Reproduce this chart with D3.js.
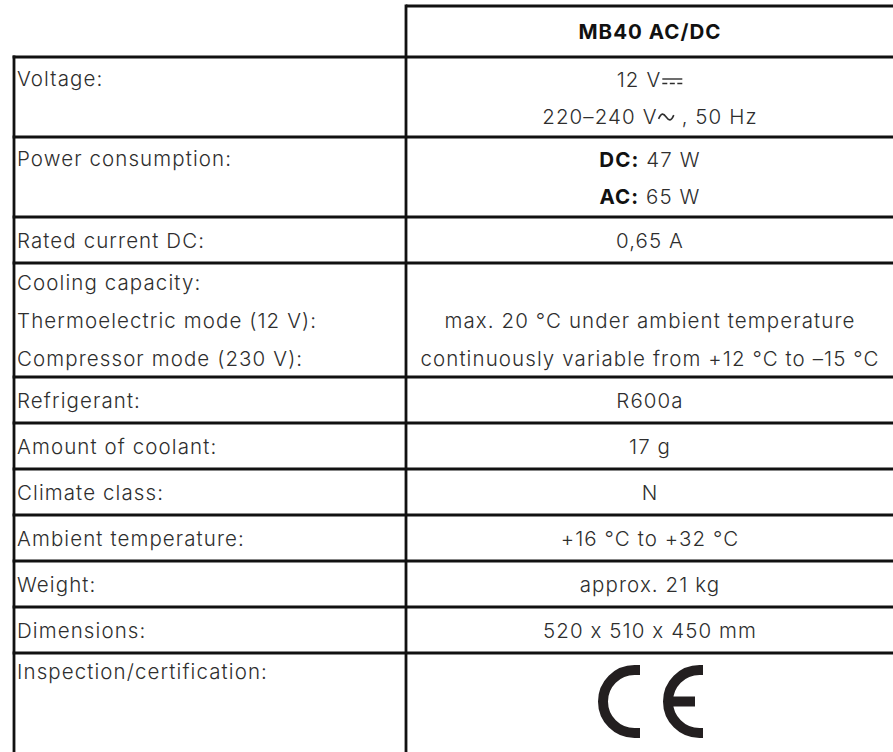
<!DOCTYPE html>
<html><head><meta charset="utf-8">
<script src="https://cdn.jsdelivr.net/npm/d3@7"></script>
<style>body{margin:0;background:#fff;overflow:hidden}</style></head>
<body><svg id="c" width="893" height="752"></svg>
<script>
const headerTitle = "MB40 AC/DC";
const rowLabels = [
  ["Voltage:"],
  ["Power consumption:"],
  ["Rated current DC:"],
  ["Cooling capacity:", "Thermoelectric mode (12 V):", "Compressor mode (230 V):"],
  ["Refrigerant:"],
  ["Amount of coolant:"],
  ["Climate class:"],
  ["Ambient temperature:"],
  ["Weight:"],
  ["Dimensions:"],
  ["Inspection/certification:"]
];
const rowValues = [
  ["12 V\u2393", "220\u2013240 V\u223C , 50 Hz"],
  ["DC: 47 W", "AC: 65 W"],
  ["0,65 A"],
  ["", "max. 20 \u00B0C under ambient temperature", "continuously variable from +12 \u00B0C to \u201315 \u00B0C"],
  ["R600a"],
  ["17 g"],
  ["N"],
  ["+16 \u00B0C to +32 \u00B0C"],
  ["approx. 21 kg"],
  ["520 x 510 x 450 mm"],
  ["CE"]
];
const boldPrefixes = ["DC:", "AC:"];
const symbolChars = ["\u2393", "\u223C"];

const W = 893, H = 752;
const svg = d3.select("#c");
const xLeft = 14, xDiv = 406, xRight = 900;
const yTop = 6, yHead = 57;
const rowBase = 46, rowExtra = 34;
const font = "Inter, 'Open Sans', 'DejaVu Sans', sans-serif";
const textColor = "#2e2e2e";
const fs = 20.5;
const cxVal = (xDiv + W + 1) / 2;

function measure(t, weight) {
  const p = svg.append("text").attr("font-family", font).attr("font-size", fs).attr("font-weight", weight).text(t);
  const w = p.node().getComputedTextLength();
  p.remove();
  return w;
}
const longStr = rowValues[3][2];
const ls = Math.max(0, (458 - measure(longStr, 300)) / (longStr.length - 1));
const lsB = Math.max(0, (142 - measure(headerTitle, 700)) / (headerTitle.length - 1));

// row boxes
const rows = [];
let y = yHead;
rowLabels.forEach((lab, i) => {
  const n = Math.max(lab.length, rowValues[i].length);
  const isLast = i === rowLabels.length - 1;
  const h = isLast ? 140 : rowBase + (n - 1) * rowExtra;
  rows.push({i, y0: y, y1: y + h, n, lab, val: rowValues[i], isLast});
  y += h;
});

const gT = svg.append("g").attr("font-family", font).attr("font-size", fs).attr("fill", textColor)
  .attr("letter-spacing", ls);
gT.append("text").attr("x", cxVal).attr("y", (yTop + yHead) / 2)
  .attr("text-anchor", "middle").attr("dominant-baseline", "central")
  .attr("font-weight", 700).attr("fill", "#111").attr("letter-spacing", lsB).text(headerTitle);

const gS = svg.append("g").attr("fill", "none").attr("stroke", textColor).attr("stroke-width", 1.4);

rows.forEach(r => {
  const step = r.n === 3 ? 38 : 37;
  const lineY = k => r.isLast ? r.y0 + 18 : (r.y0 + r.y1) / 2 + (k - (r.n - 1) / 2) * step;
  r.lab.forEach((t, k) => {
    gT.append("text").attr("x", xLeft + 3).attr("y", lineY(k)).attr("dominant-baseline", "central")
      .attr("font-weight", 300).text(t);
  });
  if (r.val[0] === "CE") return;
  r.val.forEach((t, k) => {
    if (!t) return;
    const ty = lineY(k);
    const tx = gT.append("text").attr("x", cxVal).attr("y", ty)
      .attr("text-anchor", "middle").attr("dominant-baseline", "central").attr("font-weight", 300);
    const bp = boldPrefixes.find(p => t.startsWith(p));
    if (bp) {
      tx.append("tspan").attr("font-weight", 700).attr("fill", "#111").text(bp);
      tx.append("tspan").text(t.slice(bp.length));
      return;
    }
    // electrical symbols: keep the character as text, draw its glyph as a path
    let buf = "";
    const symIdx = [];
    let idx = 0;
    for (const ch of t) {
      if (symbolChars.includes(ch)) {
        if (buf) tx.append("tspan").text(buf);
        buf = "";
        tx.append("tspan").attr("font-family", "'DejaVu Sans'").attr("font-size", 27)
          .attr("letter-spacing", 0).attr("fill-opacity", 0).text(ch);
        symIdx.push({idx, ch});
      } else buf += ch;
      idx++;
    }
    if (buf) tx.append("tspan").text(buf);
    symIdx.forEach(s => {
      const e = tx.node().getExtentOfChar(s.idx);
      const x0 = e.x + 1, x1 = e.x + e.width - 1;
      if (s.ch === "\u2393") {
        gS.append("line").attr("x1", x0).attr("x2", x1).attr("y1", ty + 0.5).attr("y2", ty + 0.5);
        gS.append("line").attr("x1", x0).attr("x2", x1).attr("y1", ty + 5).attr("y2", ty + 5)
          .attr("stroke-dasharray", `${(x1 - x0) / 4} ${(x1 - x0) / 8}`);
      } else {
        const wv = x1 - x0, a = 3.2, yc = ty + 1.5;
        const p = d3.path();
        p.moveTo(x0, yc + a * 0.6);
        p.bezierCurveTo(x0 + wv * 0.18, yc - a * 1.4, x0 + wv * 0.32, yc - a * 1.2, x0 + wv * 0.5, yc);
        p.bezierCurveTo(x0 + wv * 0.68, yc + a * 1.2, x0 + wv * 0.82, yc + a * 1.4, x1, yc - a * 0.6);
        gS.append("path").attr("d", p.toString()).attr("stroke-width", 1.6);
      }
    });
  });
});

// CE mark
const ceCy = 701.5, ceR = 36.5, sw = 10, rc = ceR - sw / 2;
const ceG = svg.append("g").attr("fill", "none").attr("stroke", "#231f20").attr("stroke-width", sw);
function letter(cx, ext) {
  const p = d3.path();
  p.moveTo(cx + ext, ceCy - rc);
  p.lineTo(cx, ceCy - rc);
  p.arc(cx, ceCy, rc, -Math.PI / 2, Math.PI / 2, true);
  p.lineTo(cx + ext, ceCy + rc);
  return p.toString();
}
const cC = 634.5, cE = 699.5;
ceG.append("path").attr("d", letter(cC, 5.5));
ceG.append("path").attr("d", letter(cE, 3.5));
ceG.append("line").attr("x1", cE - rc).attr("x2", cE - 4.5).attr("y1", ceCy).attr("y2", ceCy);
ceG.append("title").text("CE");

// grid lines
const gL = svg.append("g").attr("stroke", "#111").attr("stroke-width", 2.8);
gL.append("line").attr("x1", xDiv).attr("x2", xRight).attr("y1", yTop).attr("y2", yTop);
gL.append("line").attr("x1", xDiv).attr("x2", xDiv).attr("y1", yTop - 1.4).attr("y2", H + 10);
gL.append("line").attr("x1", xLeft).attr("x2", xLeft).attr("y1", yHead - 1.4).attr("y2", H + 10);
gL.selectAll(".h").data([yHead].concat(rows.filter(r => !r.isLast).map(r => r.y1))).enter()
  .append("line").attr("x1", xLeft - 1.4).attr("x2", xRight).attr("y1", d => d).attr("y2", d => d);
</script></body></html>
